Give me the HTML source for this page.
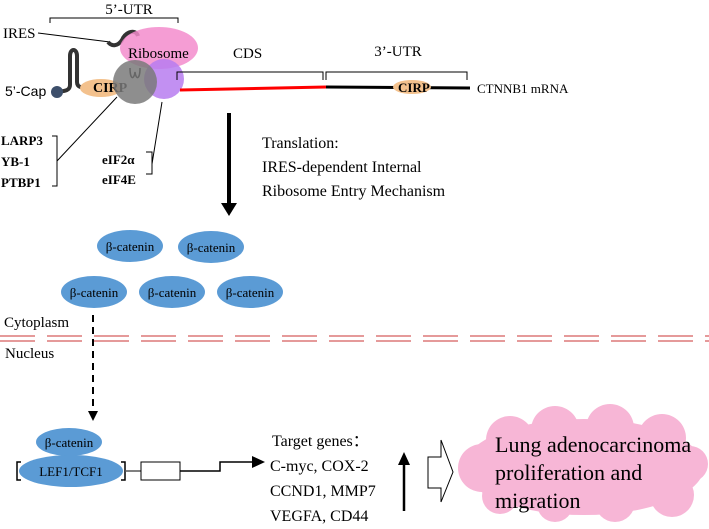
<!DOCTYPE html>
<html><head><style>body{margin:0;background:#fff}svg{display:block}</style></head><body>
<svg width="709" height="529" viewBox="0 0 709 529" xmlns="http://www.w3.org/2000/svg" font-family="Liberation Serif, serif">
<text x="129" y="14" font-size="15" text-anchor="middle">5’-UTR</text>
<path d="M50,23 V18 H178 V23" fill="none" stroke="#000" stroke-width="1"/>
<text x="3" y="38" font-size="15">IRES</text>
<line x1="38" y1="33" x2="110" y2="42" stroke="#000" stroke-width="1"/>
<path d="M57,92 C64,91 70,91 70,85 L70,56 C70,48 77,48 77,56 L77,82 C77,88 83,88 88,87" fill="none" stroke="#333" stroke-width="4"/>
<path d="M108,42 C112,47 118,46 122,40 C126,31 136,29 138,36" fill="none" stroke="#333" stroke-width="4"/>
<ellipse cx="101" cy="88" rx="21" ry="9" fill="#f3c18d"/>
<text x="93" y="92" font-size="14" font-weight="bold">CIRP</text>
<circle cx="57" cy="92" r="6" fill="#3d4f6b"/>
<text x="5" y="96" font-size="14" font-family="Liberation Sans, sans-serif">5’-Cap</text>
<ellipse cx="159" cy="48" rx="39" ry="21" fill="#f38ccd" opacity="0.85"/>
<text x="128" y="58" font-size="15">Ribosome</text>
<circle cx="164" cy="79" r="20" fill="#b77cf0" opacity="0.85"/>
<circle cx="135" cy="82" r="22" fill="#7a7a7a" opacity="0.85"/>
<path d="M130,68 C130,80 134,80 135,72 C136,80 140,80 140,68" fill="none" stroke="#666" stroke-width="1.5"/>
<line x1="180" y1="90" x2="326" y2="87" stroke="#f00" stroke-width="3"/>
<line x1="326" y1="87" x2="470" y2="88" stroke="#000" stroke-width="3"/>
<ellipse cx="412" cy="87" rx="19" ry="7" fill="#f3c18d"/>
<text x="398" y="92" font-size="13" font-weight="bold">CIRP</text>
<text x="477" y="93" font-size="13">CTNNB1 mRNA</text>
<text x="233" y="58" font-size="15">CDS</text>
<path d="M177,80 V72 H323 V80" fill="none" stroke="#000"/>
<text x="398" y="56" font-size="15" text-anchor="middle">3’-UTR</text>
<path d="M326,80 V72 H467 V80" fill="none" stroke="#000"/>
<g font-size="13" font-weight="bold">
<text x="1" y="145">LARP3</text><text x="1" y="166">YB-1</text><text x="1" y="187">PTBP1</text>
<text x="102" y="164">eIF2α</text><text x="102" y="184">eIF4E</text>
</g>
<path d="M52,136 H57 V186 H52 M57,161 L117,97" fill="none" stroke="#000"/>
<path d="M146,152 H152 V174 H146 M152,164 L162,102" fill="none" stroke="#000"/>
<line x1="229" y1="113" x2="229" y2="205" stroke="#000" stroke-width="4"/>
<path d="M221,203 L237,203 L229,216 z" fill="#000"/>
<g font-size="16"><text x="262" y="148">Translation:</text><text x="262" y="172">IRES-dependent Internal</text><text x="262" y="196">Ribosome Entry Mechanism</text></g>
<g fill="#5b9bd5">
<ellipse cx="130" cy="246" rx="33" ry="16"/><ellipse cx="211" cy="247" rx="33" ry="16"/>
<ellipse cx="94" cy="292" rx="33" ry="16"/><ellipse cx="172" cy="292" rx="33" ry="16"/><ellipse cx="250" cy="292" rx="33" ry="16"/>
<ellipse cx="69" cy="442" rx="33" ry="14"/><ellipse cx="71" cy="471" rx="52" ry="16"/>
</g>
<g font-size="13" text-anchor="middle">
<text x="130" y="251">β-catenin</text><text x="211" y="252">β-catenin</text>
<text x="94" y="297">β-catenin</text><text x="172" y="297">β-catenin</text><text x="250" y="297">β-catenin</text>
<text x="69" y="447">β-catenin</text><text x="71" y="476">LEF1/TCF1</text>
</g>
<text x="4" y="327" font-size="15">Cytoplasm</text>
<text x="5" y="358" font-size="15">Nucleus</text>
<g stroke="#e59a9a" stroke-width="2" stroke-dasharray="35,12">
<line x1="0" y1="336" x2="709" y2="336"/><line x1="0" y1="341" x2="709" y2="341"/>
</g>
<line x1="93" y1="315" x2="93" y2="412" stroke="#000" stroke-width="2" stroke-dasharray="7,5"/>
<path d="M88,411 L98,411 L93,421 z" fill="#000"/>
<path d="M21,462 H17 V480 H21 M121,462 H125 V480 H121" fill="none" stroke="#000" stroke-width="1.5"/>
<line x1="125" y1="471" x2="141" y2="471" stroke="#555" stroke-width="1.5"/>
<rect x="141" y="462" width="39" height="18" fill="#fff" stroke="#000"/>
<path d="M180,471 H220 V462 H253" fill="none" stroke="#000" stroke-width="1.5"/>
<path d="M252,456 L265,462 L252,468 z" fill="#000"/>
<g font-size="16"><text x="272" y="446">Target genes：</text><text x="270" y="471">C-myc, COX-2</text><text x="270" y="496">CCND1, MMP7</text><text x="270" y="521">VEGFA, CD44</text></g>
<line x1="404" y1="511" x2="404" y2="462" stroke="#000" stroke-width="2.5"/>
<path d="M398,465 L410,465 L404,452 z" fill="#000"/>
<path d="M428,457 H441 V440 L453,472 L441,502 V488 H428 z" fill="#fff" stroke="#000"/>
<g fill="#f7b6d6">
<ellipse cx="584" cy="467" rx="120" ry="48"/>
<circle cx="482" cy="468" r="24"/><circle cx="510" cy="440" r="24"/><circle cx="555" cy="430" r="24"/><circle cx="610" cy="428" r="24"/>
<circle cx="662" cy="438" r="24"/><circle cx="690" cy="464" r="18"/><circle cx="672" cy="495" r="22"/><circle cx="615" cy="502" r="20"/><circle cx="555" cy="504" r="18"/><circle cx="500" cy="496" r="18"/>
</g>
<g font-size="22"><text x="495" y="452">Lung adenocarcinoma</text><text x="495" y="480">proliferation and</text><text x="495" y="508">migration</text></g>
</svg>
</body></html>
